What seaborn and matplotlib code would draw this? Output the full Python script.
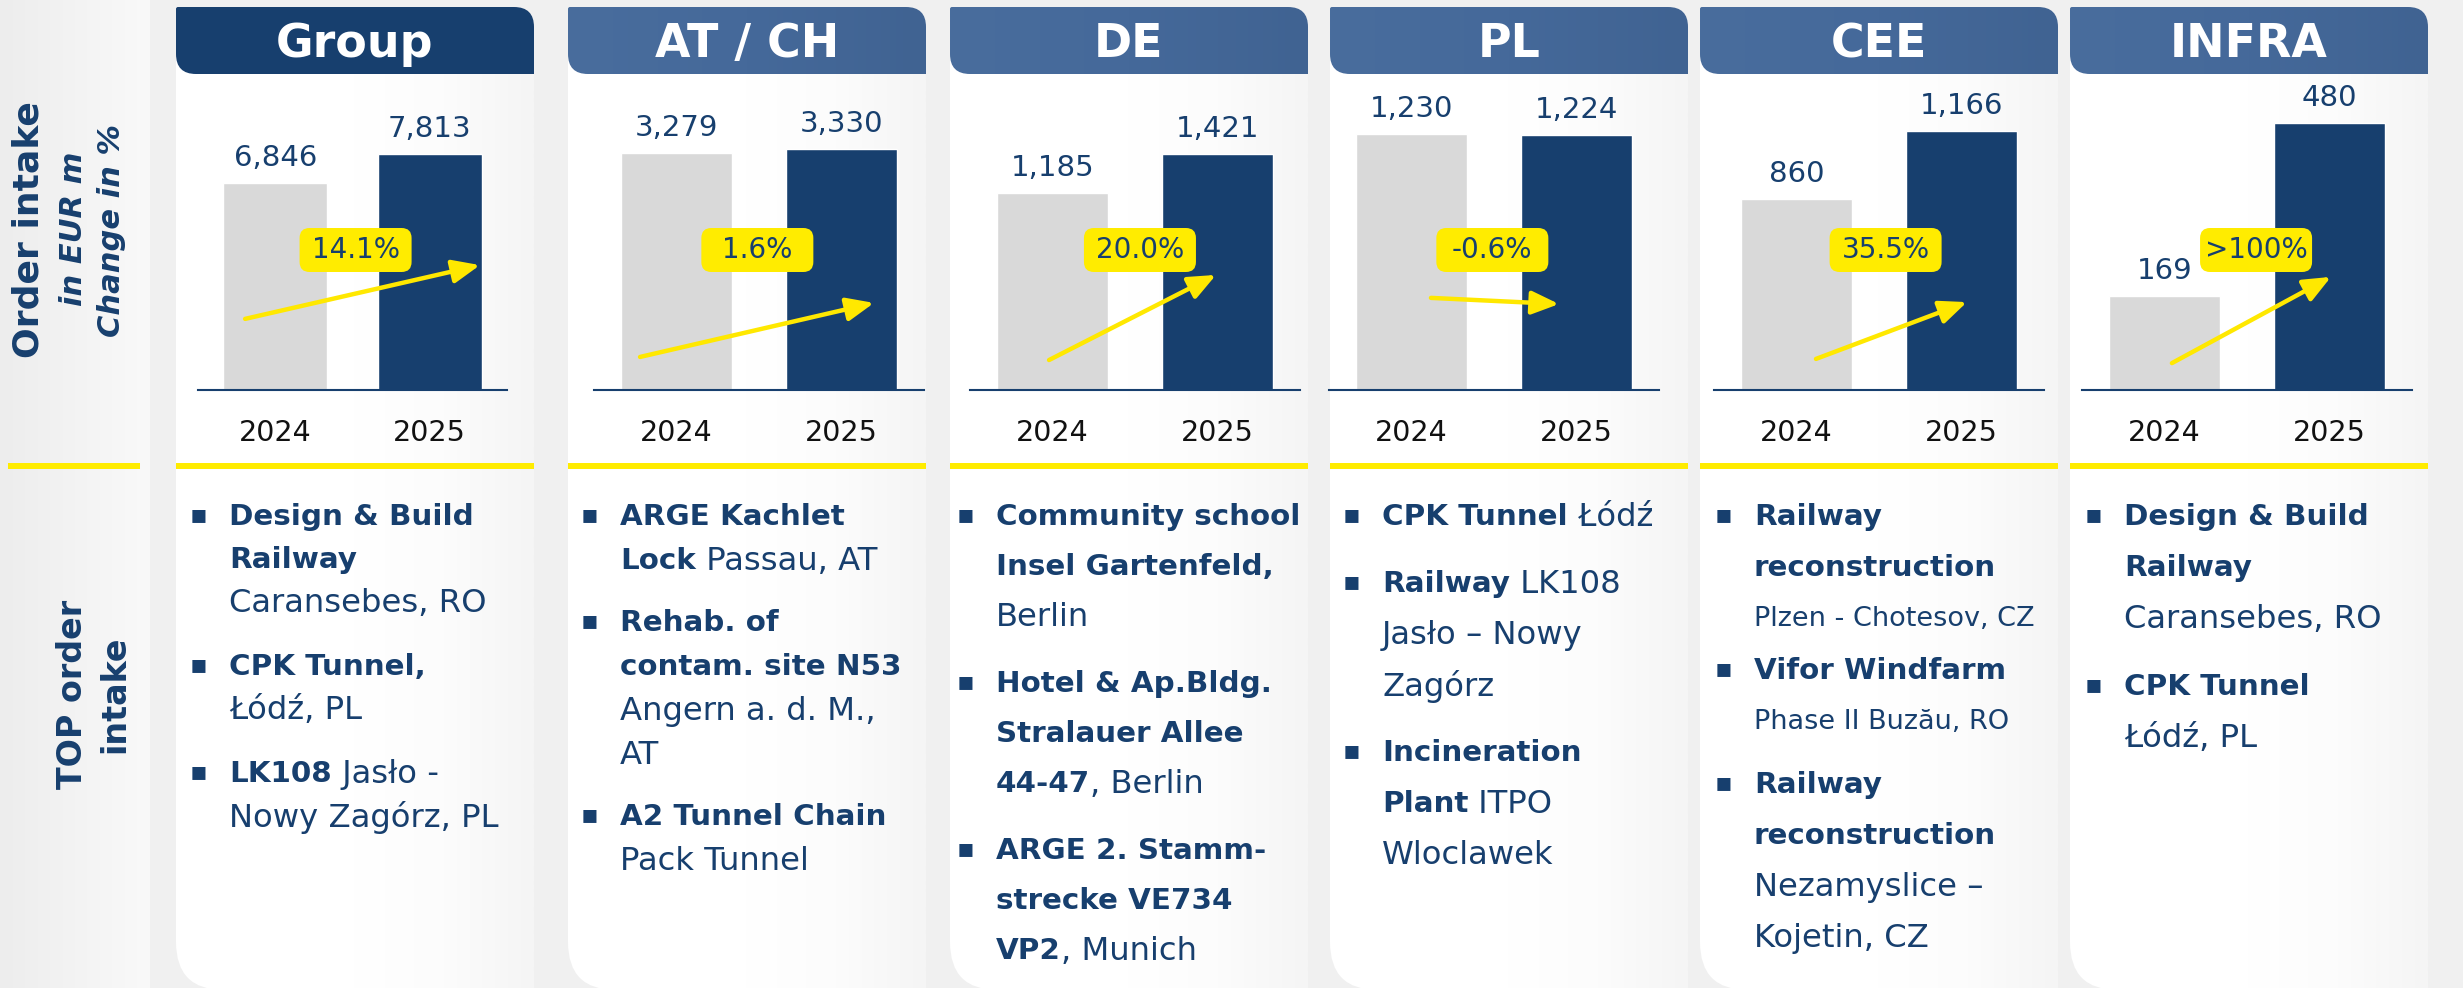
import numpy as np
import pandas as pd
import matplotlib
matplotlib.use("Agg")
import matplotlib.pyplot as plt
import seaborn as sns
from matplotlib.path import Path
from matplotlib.patches import PathPatch, FancyBboxPatch, FancyArrowPatch
from matplotlib.colors import LinearSegmentedColormap

# ------------------------------------------------------------------
# data
# ------------------------------------------------------------------
segments = ["Group", "AT / CH", "DE", "PL", "CEE", "INFRA"]
years = ["2024", "2025"]
intake_2024 = [6846, 3279, 1185, 1230, 860, 169]
intake_2025 = [7813, 3330, 1421, 1224, 1166, 480]
change_labels = ["14.1%", "1.6%", "20.0%", "-0.6%", "35.5%", ">100%"]

# top orders: item -> lines -> (style, text); b = bold, r = regular, s = small
top_group = [
    [[("b", "Design & Build")], [("b", "Railway")], [("r", "Caransebes, RO")]],
    [[("b", "CPK Tunnel,")], [("r", "Łódź, PL")]],
    [[("b", "LK108"), ("r", " Jasło -")], [("r", "Nowy Zagórz, PL")]],
]
top_atch = [
    [[("b", "ARGE Kachlet")], [("b", "Lock"), ("r", " Passau, AT")]],
    [[("b", "Rehab. of")], [("b", "contam. site N53")], [("r", "Angern a. d. M.,")], [("r", "AT")]],
    [[("b", "A2 Tunnel Chain")], [("r", "Pack Tunnel")]],
]
top_de = [
    [[("b", "Community school")], [("b", "Insel Gartenfeld,")], [("r", "Berlin")]],
    [[("b", "Hotel & Ap.Bldg.")], [("b", "Stralauer Allee")], [("b", "44-47"), ("r", ", Berlin")]],
    [[("b", "ARGE 2. Stamm-")], [("b", "strecke VE734")], [("b", "VP2"), ("r", ", Munich")]],
]
top_pl = [
    [[("b", "CPK Tunnel"), ("r", " Łódź")]],
    [[("b", "Railway"), ("r", " LK108")], [("r", "Jasło – Nowy")], [("r", "Zagórz")]],
    [[("b", "Incineration")], [("b", "Plant"), ("r", " ITPO")], [("r", "Wloclawek")]],
]
top_cee = [
    [[("b", "Railway")], [("b", "reconstruction")], [("s", "Plzen - Chotesov, CZ")]],
    [[("b", "Vifor Windfarm")], [("s", "Phase II Buzău, RO")]],
    [[("b", "Railway")], [("b", "reconstruction")], [("r", "Nezamyslice –")], [("r", "Kojetin, CZ")]],
]
top_infra = [
    [[("b", "Design & Build")], [("b", "Railway")], [("r", "Caransebes, RO")]],
    [[("b", "CPK Tunnel")], [("r", "Łódź, PL")]],
]
top_orders = [top_group, top_atch, top_de, top_pl, top_cee, top_infra]

# ------------------------------------------------------------------
# layout (pixels, y measured from top)
# ------------------------------------------------------------------
W, H = 2463, 988
card_left = [176, 568, 950, 1330, 1700, 2070]
CARD_W = 358
ax_left = [198, 594, 970, 1329, 1714, 2082]
ax_width = [309, 330, 330, 330, 330, 330]
bar_w = [0.675, 0.667, 0.667, 0.667, 0.667, 0.667]
bar_fill = [0.843, 0.861, 0.843, 0.914, 0.925, 0.954]
AX_TOP, AX_H = 110, 280
BASE = AX_TOP + AX_H
box_x = [0.52, 0.49, 0.53, 0.49, 0.54, 0.555]
arrows = [(-0.195, 0.254, 1.325, 0.446), (-0.221, 0.118, 1.197, 0.311),
          (-0.021, 0.107, 0.991, 0.411), (0.118, 0.329, 0.894, 0.307),
          (0.118, 0.111, 1.033, 0.314), (0.045, 0.096, 1.009, 0.404)]
text_dx = [53, 52, 46, 52, 54, 54]
line_step = [43, 44, 50, 51, 51, 51]
item_gap = [[21, 21], [18, 18], [17, 17], [16, 16], [1, 12], [17]]

NAVY = "#173F6E"
GREY = "#D9D9D9"
YELLOW = "#FFEC00"

sns.set_style("white")
plt.rcParams["font.family"] = ["DejaVu Sans"]

fig = plt.figure(figsize=(W / 100, H / 100), dpi=100)
fig.patch.set_facecolor("#F0F0F0")


def px_axes(x0, y0, w, h):
    return fig.add_axes([x0 / W, 1 - (y0 + h) / H, w / W, h / H])


def rounded_path(x0, y0, x1, y1, tl=0, tr=0, br=0, bl=0):
    v, c = [(x0 + tl, y0), (x1 - tr, y0)], [Path.MOVETO, Path.LINETO]
    if tr:
        v += [(x1, y0), (x1, y0 + tr)]; c += [Path.CURVE3] * 2
    v += [(x1, y1 - br)]; c += [Path.LINETO]
    if br:
        v += [(x1, y1), (x1 - br, y1)]; c += [Path.CURVE3] * 2
    v += [(x0 + bl, y1)]; c += [Path.LINETO]
    if bl:
        v += [(x0, y1), (x0, y1 - bl)]; c += [Path.CURVE3] * 2
    v += [(x0, y0 + tl)]; c += [Path.LINETO]
    if tl:
        v += [(x0, y0), (x0 + tl, y0)]; c += [Path.CURVE3] * 2
    v += [(x0 + tl, y0)]; c += [Path.CLOSEPOLY]
    return Path(v, c)


def grad_fill(ax, path, colors, x0, x1, y0, y1, z=1):
    patch = PathPatch(path, facecolor="none", edgecolor="none", zorder=z)
    ax.add_patch(patch)
    cmap = LinearSegmentedColormap.from_list("g", colors)
    im = ax.imshow(np.linspace(0, 1, 256)[None, :], cmap=cmap, aspect="auto",
                   extent=[x0, x1, y1, y0], zorder=z, interpolation="bilinear")
    im.set_clip_path(patch)


# background layer
bg = px_axes(0, 0, W, H)
bg.axis("off")
grad_fill(bg, rounded_path(0, 0, 150, H), ["#EDEDED", "#F3F3F3", "#F9F9F9"], 0, 150, 0, H)
for i, x in enumerate(card_left):
    grad_fill(bg, rounded_path(x, 30, x + CARD_W, H + 2, bl=48),
              ["#FFFFFF", "#FFFFFF", "#FFFFFF", "#FCFCFC", "#F5F5F5"], x, x + CARD_W, 30, H)
    hp = rounded_path(x, 7, x + CARD_W, 74, tl=2, tr=20, bl=20)
    if i == 0:
        bg.add_patch(PathPatch(hp, facecolor=NAVY, edgecolor="none", zorder=3))
    else:
        grad_fill(bg, hp, ["#496D9D", "#45699A", "#406392"], x, x + CARD_W, 7, 74, z=3)
    bg.plot([x, x + CARD_W], [466, 466], color=YELLOW, lw=4.3, solid_capstyle="butt", zorder=3)
bg.plot([8, 140], [466, 466], color=YELLOW, lw=4.3, solid_capstyle="butt", zorder=3)
bg.set_xlim(0, W)
bg.set_ylim(H, 0)

# bar charts
for i in range(len(segments)):
    ax = px_axes(ax_left[i], AX_TOP, ax_width[i], AX_H)
    df = pd.DataFrame({"year": years, "value": [intake_2024[i], intake_2025[i]]})
    sns.barplot(data=df, x="year", y="value", hue="year", palette=[GREY, NAVY],
                width=bar_w[i], saturation=1, legend=False, ax=ax)
    ax.set_xlim(-0.5, 1.5)
    ax.set_ylim(0, max(df["value"]) / bar_fill[i])
    ax.patch.set_alpha(0)
    for s in ["left", "right", "top"]:
        ax.spines[s].set_visible(False)
    ax.spines["bottom"].set_color(NAVY)
    ax.spines["bottom"].set_linewidth(1.5)
    ax.set_yticks([])
    ax.set_xlabel("")
    ax.set_ylabel("")
    ax.tick_params(axis="x", length=0, pad=21, labelsize=20.5, labelcolor="#111111")
    for cont in ax.containers:
        ax.bar_label(cont, labels=[f"{v:,.0f}" for v in cont.datavalues],
                     padding=8, fontsize=21, color=NAVY)

# foreground layer
fg = px_axes(0, 0, W, H)
fg.axis("off")
fg.set_xlim(0, W)
fg.set_ylim(H, 0)

STYLE = {"b": dict(fontsize=21.2, fontweight="bold"),
         "r": dict(fontsize=23.2),
         "s": dict(fontsize=19.5)}

for i, name in enumerate(segments):
    x = card_left[i]
    fg.text(x + CARD_W / 2, 57, name, ha="center", va="baseline", fontsize=33,
            fontweight="bold", color="white", zorder=5)

    unit = ax_width[i] / 2
    to_x = lambda d: ax_left[i] + (d + 0.5) * unit
    to_y = lambda f: BASE - f * AX_H

    x0, y0, x1, y1 = arrows[i]
    fg.add_patch(FancyArrowPatch((to_x(x0), to_y(y0)), (to_x(x1), to_y(y1)),
                                 arrowstyle="-|>,head_length=0.75,head_width=0.32",
                                 mutation_scale=22, color="#FFE800", lw=3.2,
                                 shrinkA=0, shrinkB=0, zorder=4))
    cx, cy = to_x(box_x[i]), 250
    fg.add_patch(FancyBboxPatch((cx - 56, cy - 22), 112, 44,
                                boxstyle="round,pad=0,rounding_size=10",
                                facecolor=YELLOW, edgecolor="none", zorder=5))
    fg.text(cx, cy, change_labels[i], ha="center", va="center", fontsize=20,
            color=NAVY, zorder=6)

    # top order intake list
    tx = x + text_dx[i]
    y = 517
    for k, item in enumerate(top_orders[i]):
        if k > 0:
            y += item_gap[i][k - 1]
        fg.text(tx - 30, y - 2, "▪", ha="center", va="center", fontsize=19, color=NAVY)
        for line in item:
            prev = None
            for style, txt in line:
                if prev is None:
                    prev = fg.text(tx, y, txt, ha="left", va="center", color=NAVY, **STYLE[style])
                else:
                    prev = fg.annotate(txt, xy=(1, 0.5), xycoords=prev, ha="left",
                                       va="center", color=NAVY, **STYLE[style])
            y += line_step[i]

# left hand labels
fg.text(29, 230, "Order intake", rotation=90, ha="center", va="center",
        fontsize=26, fontweight="bold", color=NAVY)
fg.text(73, 229, "in EUR m", rotation=90, ha="center", va="center",
        fontsize=22, fontweight="bold", fontstyle="italic", color=NAVY)
fg.text(112, 230, "Change in %", rotation=90, ha="center", va="center",
        fontsize=22, fontweight="bold", fontstyle="italic", color=NAVY)
fg.text(73, 694, "TOP order", rotation=90, ha="center", va="center",
        fontsize=24, fontweight="bold", color=NAVY)
fg.text(115, 694, "intake", rotation=90, ha="center", va="center",
        fontsize=24, fontweight="bold", color=NAVY)

fig.savefig("out.png", dpi=100, facecolor=fig.get_facecolor())
